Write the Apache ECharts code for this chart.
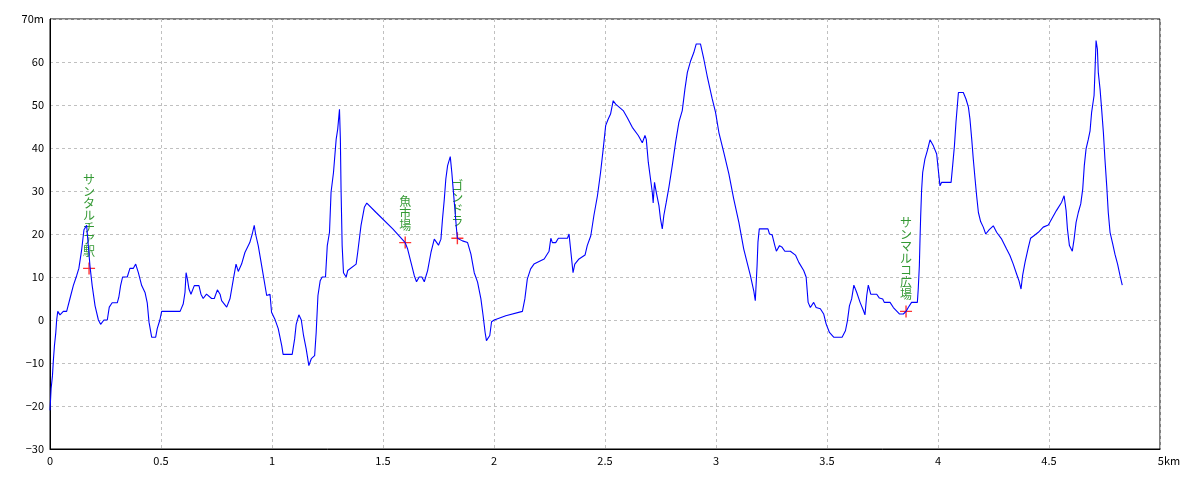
<!DOCTYPE html>
<html>
<head>
<meta charset="utf-8">
<script src="https://cdn.jsdelivr.net/npm/echarts@6/dist/echarts.min.js"></script>
<style>html,body{margin:0;padding:0;background:#fff}#c{width:1200px;height:480px}</style>
</head>
<body>
<div id="c"></div>
<script>
// distance along route (km)
const distKm = [0,0.005,0.011,0.015,0.02,0.026,0.03,0.035,0.045,0.06,0.075,0.09,0.105,0.12,0.13,0.143,0.153,0.165,0.173,0.18,0.19,0.203,0.218,0.228,0.243,0.258,0.267,0.28,0.303,0.31,0.318,0.327,0.348,0.36,0.375,0.386,0.398,0.413,0.428,0.438,0.446,0.458,0.476,0.483,0.495,0.503,0.586,0.6,0.608,0.613,0.619,0.626,0.635,0.65,0.671,0.68,0.69,0.705,0.728,0.74,0.754,0.766,0.773,0.796,0.811,0.826,0.838,0.848,0.863,0.878,0.9,0.911,0.92,0.926,0.938,0.949,0.961,0.976,0.983,0.991,0.998,1.013,1.028,1.044,1.05,1.091,1.102,1.109,1.121,1.132,1.142,1.154,1.166,1.177,1.192,1.199,1.207,1.217,1.226,1.241,1.249,1.259,1.266,1.277,1.289,1.296,1.304,1.308,1.311,1.316,1.322,1.334,1.341,1.379,1.386,1.401,1.416,1.427,1.469,1.544,1.6,1.611,1.626,1.641,1.651,1.663,1.675,1.686,1.701,1.716,1.731,1.738,1.75,1.761,1.768,1.776,1.783,1.791,1.803,1.81,1.816,1.825,1.831,1.835,1.843,1.858,1.881,1.896,1.911,1.926,1.941,1.951,1.96,1.966,1.981,1.989,2.001,2.053,2.128,2.139,2.15,2.165,2.18,2.226,2.248,2.256,2.263,2.278,2.29,2.331,2.338,2.346,2.356,2.364,2.383,2.41,2.42,2.436,2.45,2.466,2.48,2.492,2.503,2.514,2.525,2.537,2.548,2.582,2.6,2.623,2.65,2.668,2.68,2.686,2.695,2.705,2.713,2.717,2.723,2.731,2.743,2.75,2.758,2.765,2.776,2.788,2.803,2.818,2.833,2.848,2.86,2.871,2.886,2.9,2.911,2.93,2.945,2.96,2.983,2.998,3.013,3.035,3.058,3.08,3.103,3.125,3.14,3.155,3.17,3.177,3.185,3.189,3.195,3.234,3.241,3.253,3.265,3.272,3.286,3.298,3.31,3.335,3.358,3.373,3.395,3.406,3.415,3.425,3.44,3.451,3.47,3.485,3.496,3.511,3.53,3.568,3.583,3.592,3.601,3.611,3.621,3.634,3.649,3.664,3.671,3.679,3.686,3.697,3.724,3.736,3.751,3.758,3.784,3.799,3.826,3.844,3.856,3.866,3.881,3.907,3.911,3.916,3.919,3.922,3.926,3.931,3.941,3.952,3.964,3.979,3.994,4.001,4.009,4.016,4.059,4.066,4.074,4.081,4.092,4.114,4.126,4.137,4.144,4.152,4.159,4.167,4.174,4.182,4.192,4.204,4.215,4.231,4.249,4.264,4.287,4.309,4.324,4.339,4.354,4.365,4.374,4.381,4.392,4.407,4.417,4.432,4.452,4.474,4.497,4.512,4.534,4.557,4.568,4.577,4.583,4.592,4.605,4.613,4.622,4.632,4.643,4.652,4.659,4.667,4.677,4.685,4.692,4.703,4.707,4.712,4.718,4.722,4.73,4.737,4.745,4.752,4.76,4.767,4.775,4.787,4.797,4.809,4.82,4.83];
// elevation (m)
const elevM = [-21,-16,-13,-9.5,-6,-3,0,2,1.2,2,2,5,8,10.3,12,16.5,21,22,17,12.6,8,3.3,0,-1,0,0,3,4,4,5.3,8,10,10,12,12,13,11,8,6.4,4,-0.5,-4,-4,-2,0,2,2,3.7,6.4,11,9.5,7.2,6,8,8,6,5,6,5,5,7,6,4.5,3,5,9.5,13,11.3,13,15.7,18,20,22,20,17.3,14,10.3,5.7,5.3,6,1.8,0.2,-2,-6,-8,-8,-4.4,-1,1.2,0,-3.6,-6.7,-10.6,-9,-8.3,-2.9,5.7,9.1,10,10,17.3,20.4,29.7,34.3,42,44.4,49,42,30.5,17.3,11,10,11.5,13,15.7,22,26.2,27.2,25,21.2,18,16.5,13.4,10.3,8.9,10,10,8.9,11.5,15.7,18.8,19,17.4,18.8,23.5,28,32.8,35.9,38,34.3,30.5,25,21.2,19,19,18.4,18,15.3,11,8.8,4.9,1,-2.9,-4.8,-3.6,-0.4,0,1,2,4.9,9.5,11.9,13,14.2,16,19,18,18,19,19,20,16,11,13,14.2,15.1,17.3,19.6,24.3,28.9,34.3,39.8,45.2,46.7,47.9,51,50.2,48.7,47.1,44.8,42.9,41.2,42.9,42,36.7,32.8,29.7,27.2,32,29.7,26.6,23.5,21.2,24.3,27.4,30.9,35.9,41.3,46,48.7,53.7,57.6,60.3,62.2,64.2,64.2,60.7,56.8,51.4,48.3,43.6,39,34,28.1,22.7,16.5,13.4,10.3,6.8,4.5,12.6,18.1,21.2,21.2,20,19.8,17.3,16,17.3,16.9,16,16,15.1,13.4,11.5,10,4.1,2.9,4.1,2.9,2.6,1.4,-0.9,-2.9,-4,-4,-2.5,-0.2,3.3,4.9,8.1,6.4,4.1,2.2,1.2,5.7,8.1,6,6,5.1,4.9,4.1,4.1,2.9,1.4,1.4,2,2.9,4.1,4.1,7.2,12.6,18.8,24.2,30,34.3,37.4,39.4,41.9,40.5,38.6,35.1,31.2,32,32,35.9,40.5,46,52.9,52.9,51.4,49.5,46.7,42,37.4,32.8,28.9,25,22.9,21.6,20,21,21.9,20.4,18.8,16.5,15,13,10.7,9.1,7.2,10.3,13.4,16.9,19,19.6,20.4,21.6,22.1,23.5,25.5,27.4,28.9,25.5,21.2,17.3,16,18.8,22.7,25,27,30.5,35.9,39.8,42,44,48.3,52.2,57.6,65,63,57.6,53.7,49.1,43.6,37.4,31.2,25,20.4,17.7,15.3,13,10.3,8.1];

// landmarks
const landmarkNames = ['サンタルチア駅','魚市場','ゴンドラ','サンマルコ広場'];
const landmarkKm = [0.176, 1.6, 1.835, 3.856];
const landmarkM = [12, 18, 19, 2];

// tick labels
const xTickValues = [0,0.5,1,1.5,2,2.5,3,3.5,4,4.5,5];
const xTickLabels = ['0','0.5','1','1.5','2','2.5','3','3.5','4','4.5','5km'];
const yTickValues = [-30,-20,-10,0,10,20,30,40,50,60,70];
const yTickLabels = ['−30','−20','−10','0','10','20','30','40','50','60','70m'];

const lineData = distKm.map((d,i)=>[d, elevM[i]]);
const markData = landmarkKm.map((d,i)=>({value:[d, landmarkM[i]], name: landmarkNames[i]}));

const chart = echarts.init(document.getElementById('c'), null, {renderer:'canvas'});
const fontTick = '"Noto Sans CJK JP", "DejaVu Sans", sans-serif';
chart.setOption({
  animation:false,
  backgroundColor:'#fff',
  grid:{left:50, right:40, top:19, bottom:31, show:true, borderColor:'#000', borderWidth:1, backgroundColor:'transparent'},
  xAxis:{
    type:'value', min:0, max:5, interval:0.5,
    axisLine:{show:true, onZero:false, lineStyle:{color:'#000', width:1}},
    axisTick:{show:false},
    splitLine:{show:true, lineStyle:{color:'#c0c0c0', type:[3,3], width:1}},
    axisLabel:{
      color:'#000', fontSize:11, fontFamily:fontTick, margin:6,
      formatter:function(v){
        const i = xTickValues.findIndex(t=>Math.abs(t-v)<1e-9);
        const s = i>=0 ? xTickLabels[i] : String(v);
        return i===xTickValues.length-1 ? '{r|'+s+'}' : s;
      },
      rich:{r:{padding:[0,0,0,18], fontSize:11, fontFamily:fontTick, color:'#000'}}
    }
  },
  yAxis:{
    type:'value', min:-30, max:70, interval:10,
    axisLine:{show:true, onZero:false, lineStyle:{color:'#000', width:1}},
    axisTick:{show:false},
    splitLine:{show:true, lineStyle:{color:'#c0c0c0', type:[3,3], width:1}},
    axisLabel:{
      color:'#000', fontSize:11, fontFamily:fontTick, margin:6,
      formatter:function(v){
        const i = yTickValues.indexOf(v);
        return i>=0 ? yTickLabels[i] : String(v);
      }
    }
  },
  series:[
    {
      type:'line', data:lineData, showSymbol:false, symbol:'none',
      lineStyle:{color:'#0000ff', width:1.1}, z:3
    },
    {
      type:'scatter', data:markData, z:2,
      symbol:'path://M5.3,0H6.7V12H5.3Z M0,5.3H12V6.7H0Z', symbolSize:12,
      itemStyle:{color:'#ff0000'},
      label:{
        show:true, position:'top', distance:5,
        color:'#008000', fontSize:12, lineHeight:12,
        fontFamily:'"Noto Sans CJK JP", sans-serif',
        formatter:function(p){ return p.name.split('').join('\n'); }
      }
    }
  ]
});
</script>
</body>
</html>
